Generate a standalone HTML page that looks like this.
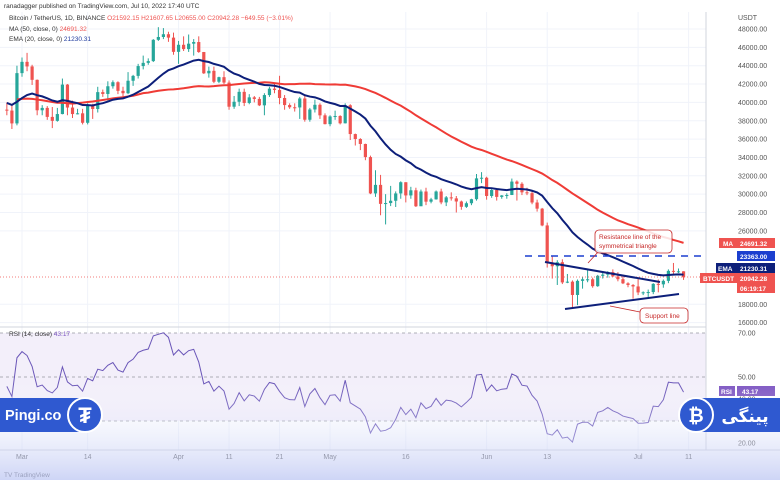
<!DOCTYPE html>
<html><head><meta charset="utf-8"><style>
html,body{margin:0;padding:0;background:#fff;}
svg{display:block;font-family:"Liberation Sans","DejaVu Sans",sans-serif;}
</style></head><body>
<svg id="chart" width="780" height="480" viewBox="0 0 780 480">
<defs>
<linearGradient id="bg" x1="0" y1="0" x2="0" y2="1">
<stop offset="0" stop-color="#ffffff" stop-opacity="0"/>
<stop offset="1" stop-color="#b9c3f2" stop-opacity="0.7"/>
</linearGradient>
</defs>
<rect x="0" y="0" width="780" height="480" fill="#fff"/>
<g id="grid"></g>
<rect x="0" y="333" width="706" height="88" fill="#f3effa"/>
<g id="marks"></g>
<g id="axes"></g>
<g id="anno"></g>
<rect x="0" y="380" width="780" height="100" fill="url(#bg)"/>
<g id="brand"></g>
</svg>
<script>
// ---- data ----
const histCloses=[41860,42740,43950,42590,43100,43180,43110,42250,42380,41700,40700,36460,35080,36280,36690,36980,36850,37180,37710,38170,37920,38480,38740,36950,37150,41570,41410,42410,43840,44100,44350,43570,42410,42240,42200,42590,44580,43960,40540,40000,40120,38430,37020,38290,37260,38330,39210];
const closes=[39110,37710,43190,44420,43920,42460,39140,39400,38420,37990,38730,41940,39440,38730,38810,37780,39670,39280,41120,40920,41760,42200,41260,41000,42360,42890,43960,44310,44500,46820,47130,47430,47060,45510,46280,45810,46400,46580,45490,43170,43440,42250,42750,42160,39530,40070,41150,39940,40550,40380,39680,40800,41500,41360,40480,39710,39470,39450,40430,38110,39230,39740,38590,37630,38470,38520,37720,39690,36550,36010,35470,34040,30080,31010,28940,29030,29280,30080,31300,29860,30420,28680,30290,29180,29430,30290,29100,29650,29540,29200,28620,29010,29450,31720,31790,29800,30450,29700,29860,29910,31370,31130,30200,30110,29090,28420,26590,22490,22140,22580,20380,20460,19010,20550,20720,20720,19970,21100,21230,21500,21030,20730,20280,20100,19940,19290,19300,19330,20220,20170,20550,21640,21590,21590,20942];
const highs=[40000,39800,44000,44900,45400,44100,42500,39700,39600,39500,39400,42600,42000,40200,39300,39300,39900,39850,41700,41400,42300,42400,42300,41700,43300,43000,44200,45100,44800,46900,48200,48100,47700,47600,46700,47200,47400,46900,47200,45500,43900,43900,42800,43400,42400,40700,41500,41500,40900,40700,40600,41000,41700,42100,42900,40800,39900,39900,40600,40700,39400,40300,39900,38800,38600,39100,38600,39900,39800,36600,36100,35500,34200,32600,32100,30000,30900,30300,31400,31300,30800,30700,30500,30700,29600,30400,30600,29800,30200,29800,29300,29200,29500,32200,32400,31900,30600,30600,29900,30100,31700,31500,31300,30700,30300,29400,28500,26900,23300,22800,22900,21300,20600,20700,21000,21700,20900,21200,21500,21600,21800,21500,21200,20400,20200,20800,19400,19600,20300,20700,20700,21800,22500,21900,21600];
const lows=[38600,37100,37500,42800,43400,41900,38600,38600,38100,37200,37900,38700,38600,38300,38700,37600,37600,38200,38900,40600,40200,41500,40900,40500,40900,41800,42600,43600,44100,44400,46700,46900,46600,45200,44200,45600,45500,45100,45400,43100,42700,42100,42100,42000,39200,39300,39600,39600,39800,40000,39600,38600,40600,41000,39800,39200,39300,39000,38200,37900,37900,38900,38200,37600,37400,38100,37600,37700,35900,35300,34800,33700,30000,29700,27700,26700,28700,28600,29500,29100,29500,28600,28700,28800,29000,29400,28900,28700,29300,28000,28300,28500,28800,29300,31200,29400,29600,29300,29500,29500,29900,29300,29900,29900,28900,28100,26500,22000,20800,20100,20200,20300,17600,17900,19700,20400,19800,19900,20800,20900,21000,20500,20200,19850,18600,19000,19000,18800,19100,19300,19800,20300,21200,21400,20655];
const firstDay=-3; // Feb 26 relative to Mar 1
const priceTicks=[48000,46000,44000,42000,40000,38000,36000,34000,32000,30000,28000,26000,18000,16000];
const rsiTicks=[70,50,40,20];
const timeLabels=["Mar","14","Apr","11","21","May","16","Jun","13","Jul","11","2"];
const timeDays=[0,13,31,41,51,61,76,92,104,122,132,153];

// ---- scales ----
const X=d=>22+d*5.05;
const Y=p=>29+(48000-p)/2000*18.35;
const R=v=>333+(70-v)*2.2;
const NS="http://www.w3.org/2000/svg";
function mk(tag,attrs,parent,text){const e=document.createElementNS(NS,tag);for(const k in attrs)e.setAttribute(k,attrs[k]);if(text!==undefined)e.textContent=text;parent.appendChild(e);return e;}
const grid=document.getElementById('grid'),marks=document.getElementById('marks'),axes=document.getElementById('axes');

priceTicks.forEach(p=>{const l=mk('line',{x1:0,x2:706,y1:Y(p),y2:Y(p),stroke:'#f0f3fa'},grid);

});
timeDays.forEach(d=>{if(X(d)>706)return;const l=mk('line',{x1:X(d),x2:X(d),y1:12,y2:450,stroke:'#f0f3fa'},grid);

});

const all=histCloses.concat(closes);
closes.forEach((c,i)=>{
 const o=i===0?histCloses[histCloses.length-1]:closes[i-1];
 const x=X(firstDay+i);const col=c>=o?'#26a69a':'#ef5350';
 const g=mk('g',{},marks);
 
 
 mk('line',{x1:x,x2:x,y1:Y(highs[i]),y2:Y(lows[i]),stroke:col,'stroke-width':1},g);
 const t=Math.min(Y(o),Y(c)),h=Math.max(1,Math.abs(Y(o)-Y(c)));
 mk('rect',{x:x-1.6,y:t,width:3.2,height:h,fill:col},g);
});

const off=histCloses.length;
let maPts=[],emaPts=[],ema=all.slice(0,20).reduce((a,b)=>a+b,0)/20;const k=2/21;
for(let j=20;j<all.length;j++){ema=all[j]*k+ema*(1-k);if(j>=off)emaPts.push(X(firstDay+j-off)+','+Y(ema));}
for(let j=off;j<all.length;j++){if(j<49)continue;let s=0;for(let q=j-49;q<=j;q++)s+=all[q];maPts.push(X(firstDay+j-off)+','+Y(s/50));}
const ma=mk('polyline',{points:maPts.join(' '),fill:'none',stroke:'#ef3b36','stroke-width':2},marks);


const em=mk('polyline',{points:emaPts.join(' '),fill:'none',stroke:'#0d1f7a','stroke-width':2},marks);



let ag=0,al=0,rsiPts=[];
for(let j=1;j<all.length;j++){const ch=all[j]-all[j-1],g=Math.max(ch,0),l=Math.max(-ch,0);
 if(j<=14){ag+=g/14;al+=l/14;}else{ag=(ag*13+g)/14;al=(al*13+l)/14;}
 if(j>=off&&j>=14){const r=al===0?100:100-100/(1+ag/al);rsiPts.push(X(firstDay+j-off)+','+R(r));}}
[70,50,30].forEach(v=>{const l=mk('line',{x1:0,x2:706,y1:R(v),y2:R(v),stroke:'#9598a1','stroke-dasharray':'3,3','stroke-width':0.8},marks);

});
const rl=mk('polyline',{points:rsiPts.join(' '),fill:'none',stroke:'#6a56b8','stroke-width':1},marks);



mk('line',{x1:706,x2:706,y1:12,y2:450,stroke:'#d1d4dc'},axes);
mk('line',{x1:0,x2:706,y1:327,y2:327,stroke:'#d1d4dc'},axes);
mk('line',{x1:0,x2:780,y1:450,y2:450,stroke:'#d1d4dc'},axes);
mk('text',{x:738,y:20,'font-size':7,fill:'#555'},axes,'USDT');
priceTicks.forEach(p=>{const t=mk('text',{x:738,y:Y(p)+2.5,'font-size':7,fill:'#555'},axes,p.toFixed(2));

});
rsiTicks.forEach(v=>{const t=mk('text',{x:738,y:R(v)+2.5,'font-size':7,fill:'#555'},axes,v.toFixed(2));

});
timeLabels.forEach((s,i)=>{const x=X(timeDays[i]);if(x>740)return;const t=mk('text',{x:x,y:459,'font-size':7,fill:'#555','text-anchor':'middle'},axes,s);

});
</script>
<script>
const anno=document.getElementById('anno');
anno.innerHTML=`
<text x="4" y="8" font-size="6.5" fill="#333">ranadagger published on TradingView.com, Jul 10, 2022 17:40 UTC</text>
<g font-size="6.5">
<text x="9" y="20" fill="#333">Bitcoin / TetherUS, 1D, BINANCE <tspan fill="#ef5350">O21592.15 H21607.65 L20655.00 C20942.28 −649.55 (−3.01%)</tspan></text>
<text x="9" y="31" fill="#333">MA (50, close, 0) <tspan fill="#ef5350">24691.32</tspan></text>
<text x="9" y="41" fill="#333">EMA (20, close, 0) <tspan fill="#1e3a9e">21230.31</tspan></text>
<text x="9" y="336" fill="#333">RSI (14, close) <tspan fill="#7e57c2">43.17</tspan></text>
</g>
<line x1="525" y1="256" x2="706" y2="256" stroke="#1c3fcf" stroke-width="1.5" stroke-dasharray="7,6"/>
<line x1="0" y1="277" x2="706" y2="277" stroke="#ef5350" stroke-width="0.8" stroke-dasharray="1,2"/>
<line x1="545" y1="262" x2="660" y2="282" stroke="#0d1f7a" stroke-width="2"/>
<line x1="565" y1="309" x2="679" y2="294" stroke="#0d1f7a" stroke-width="2"/>
<g>
<path d="M599 251 L588 263" stroke="#c62828" stroke-width="0.8"/>
<rect x="595" y="230" width="77" height="23" rx="4" fill="#fff" fill-opacity="0.85" stroke="#c62828" stroke-width="0.8"/>
<text x="599" y="239" font-size="6.5" fill="#c62828">Resistance line of the</text>
<text x="599" y="248" font-size="6.5" fill="#c62828">symmetrical triangle</text>
</g>
<g>
<path d="M640 312 L610 306" stroke="#c62828" stroke-width="0.8"/>
<rect x="640" y="308" width="48" height="15" rx="4" fill="#fff" stroke="#c62828" stroke-width="0.8"/>
<text x="645" y="318" font-size="6.5" fill="#c62828">Support line</text>
</g>
<g font-size="6.5" font-weight="bold">
<rect x="719" y="238" width="18" height="10" fill="#ef5350"/><text x="723" y="246" fill="#fff">MA</text>
<rect x="737" y="238" width="38" height="10" fill="#ef5350"/><text x="740" y="246" fill="#fff">24691.32</text>
<rect x="737" y="251" width="38" height="10" fill="#1c3fcf"/><text x="740" y="259" fill="#fff">23363.00</text>
<rect x="716" y="263" width="21" height="10" fill="#0d1f7a"/><text x="718" y="271" fill="#fff">EMA</text>
<rect x="737" y="263" width="38" height="10" fill="#0d1f7a"/><text x="740" y="271" fill="#fff">21230.31</text>
<rect x="700" y="273" width="37" height="10" fill="#ef5350"/><text x="703" y="281" fill="#fff">BTCUSDT</text>
<rect x="737" y="273" width="38" height="20" fill="#ef5350"/><text x="740" y="281" fill="#fff">20942.28</text><text x="740" y="291" fill="#fff">06:19:17</text>
<rect x="719" y="386" width="16" height="10" fill="#7e57c2"/><text x="721" y="394" fill="#fff">RSI</text>
<rect x="737" y="386" width="38" height="10" fill="#7e57c2"/><text x="742" y="394" fill="#fff">43.17</text>
</g>
<text x="4" y="477" font-size="6.5" fill="#555">TV TradingView</text>`;
const brand=document.getElementById('brand');
brand.innerHTML=`
<g>
<rect x="0" y="398" width="82" height="34" fill="#2f59d0"/>
<text x="5" y="420" font-size="14.5" font-weight="bold" fill="#fff">Pingi.co</text>
<circle cx="85" cy="415" r="17" fill="#2f59d0" stroke="#fff" stroke-width="2"/>
<text x="85" y="423" font-size="22" font-weight="bold" fill="#fff" text-anchor="middle">₮</text>
</g>
<g>
<rect x="697" y="398" width="83" height="34" fill="#2f59d0"/>
<circle cx="696" cy="415" r="17" fill="#2f59d0" stroke="#fff" stroke-width="2"/>
<text x="696" y="422" font-size="19" font-weight="bold" fill="#fff" text-anchor="middle">₿</text>
<text x="745" y="422" font-size="17" font-weight="bold" fill="#fff" text-anchor="middle" font-family="DejaVu Sans, sans-serif">پینگی</text>
</g>`;
</script>
</body></html>
